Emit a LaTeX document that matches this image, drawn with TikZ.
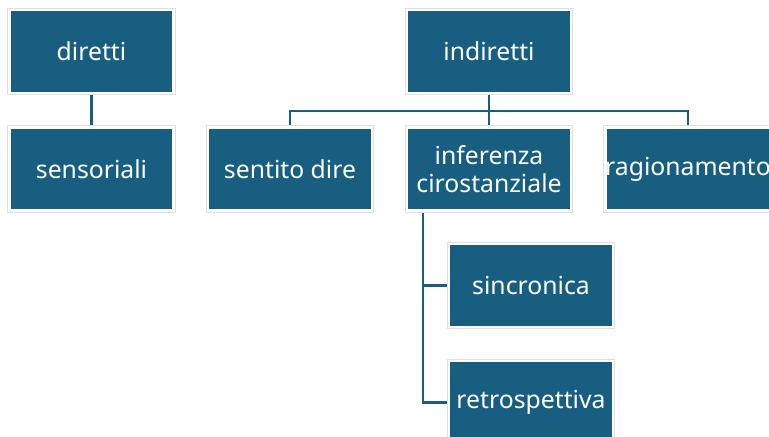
\documentclass[tikz,border=0pt]{standalone}
\usepackage{fontspec}
\setmainfont{Noto Sans}
\usetikzlibrary{backgrounds}
\definecolor{teal}{RGB}{24,94,128}

\begin{document}
\begin{tikzpicture}[
  box/.style={fill=teal, draw=white, line width=2.1pt,
    preaction={draw=black!12, line width=3.3pt},
    minimum width=4.1cm, minimum height=2.075cm, inner sep=0pt,
    text=white, align=center,
    font=\fontsize{17.6}{20}\selectfont},
  link/.style={draw=teal, line width=2pt}
]

\useasboundingbox (0,0) rectangle (19.225,10.925);

\node[box] (diretti) at (2.2875,9.6375) {diretti};
\node[box] (sensoriali) at (2.2875,6.7) {sensoriali};

\node[box] (indiretti) at (12.225,9.6375) {indiretti};
\node[box] (sentito) at (7.25,6.7) {sentito dire};
\node[box] (inferenza) at (12.225,6.7) {inferenza\\cirostanziale};
\node[box] (ragionamento) at (17.2,6.7) {ragionamento};

\node[box] (sincronica) at (13.275,3.7875) {sincronica};
\node[box] (retrospettiva) at (13.275,0.8625) {retrospettiva};

\coordinate (bus) at (12.225,8.15);
\coordinate (stem) at (10.575,6.7);

% connectors behind the boxes
\begin{scope}[on background layer]
\draw[link] (diretti) -- (sensoriali);

\draw[link] (indiretti) -- (inferenza);
\draw[link] (sentito) |- (bus) -| (ragionamento);

\draw[link] (stem) |- (sincronica);
\draw[link] (stem) |- (retrospettiva);
\end{scope}

\end{tikzpicture}
\end{document}
